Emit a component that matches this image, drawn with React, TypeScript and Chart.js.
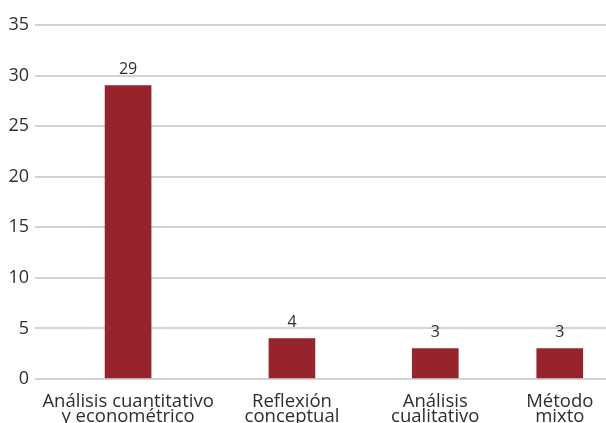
import React, { useEffect, useRef } from "react";
import { Chart, registerables } from "chart.js";

Chart.register(...registerables);

// ---- data ----
const categories: string[][] = [
  ["Análisis cuantitativo", "y econométrico"],
  ["Reflexión", "conceptual"],
  ["Análisis", "cualitativo"],
  ["Método", "mixto"],
];
const counts: number[] = [29, 4, 3, 3];
const yTickValues: number[] = [0, 5, 10, 15, 20, 25, 30, 35];

// ---- layout (horizontal slot of each category on a 0–100 axis) ----
const categorySlots: number[] = [16.3, 45.0, 70.1, 91.9];

const FONT = "'Open Sans', 'Noto Sans', sans-serif";
const BAR = "#97232d";
const TEXT = "#2e2e2e";

const valueLabels = {
  id: "valueLabels",
  afterDatasetsDraw(chart: any) {
    const { ctx } = chart;
    const meta = chart.getDatasetMeta(0);
    ctx.save();
    ctx.fillStyle = TEXT;
    ctx.font = `16px ${FONT}`;
    ctx.textAlign = "center";
    ctx.textBaseline = "alphabetic";
    meta.data.forEach((el: any, i: number) => {
      ctx.fillText(String(counts[i]), el.x, el.y - 12);
    });
    ctx.restore();
  },
};

export default function App() {
  const ref = useRef<HTMLCanvasElement | null>(null);
  useEffect(() => {
    if (!ref.current) return;
    const chart = new Chart(ref.current, {
      type: "bar",
      data: {
        datasets: [
          {
            data: counts.map((v, i) => ({ x: categorySlots[i], y: v })),
            backgroundColor: BAR,
            barThickness: 46,
          },
        ],
      },
      options: {
        animation: false,
        responsive: true,
        maintainAspectRatio: false,
        layout: { padding: { top: 25, right: 0, left: 0, bottom: 0 } },
        plugins: { legend: { display: false }, tooltip: { enabled: false } },
        scales: {
          x: {
            type: "linear",
            min: 0,
            max: 100,
            offset: false,
            grid: { display: false },
            border: { display: false },
            afterBuildTicks: (scale: any) => {
              scale.ticks = categorySlots.map((v) => ({ value: v }));
            },
            afterFit: (scale: any) => {
              scale.height = 44;
            },
            ticks: {
              autoSkip: false,
              maxRotation: 0,
              minRotation: 0,
              padding: 7,
              color: TEXT,
              font: { family: FONT, size: 18.5, lineHeight: 0.82 },
              callback: (_v: any, i: number) => categories[i],
            },
          },
          y: {
            min: 0,
            max: 35,
            afterBuildTicks: (scale: any) => {
              scale.ticks = yTickValues.map((v) => ({ value: v }));
            },
            afterFit: (scale: any) => {
              scale.width = 35;
            },
            grid: { color: "#d4d4d4", lineWidth: 2, drawTicks: false },
            border: { display: false },
            ticks: {
              padding: 6,
              color: TEXT,
              font: { family: FONT, size: 18 },
            },
          },
        },
      },
      plugins: [valueLabels],
    });
    return () => chart.destroy();
  }, []);
  return (
    <div style={{ position: "absolute", left: 0, top: 0, width: 606, height: 423 }}>
      <canvas ref={ref} />
    </div>
  );
}
